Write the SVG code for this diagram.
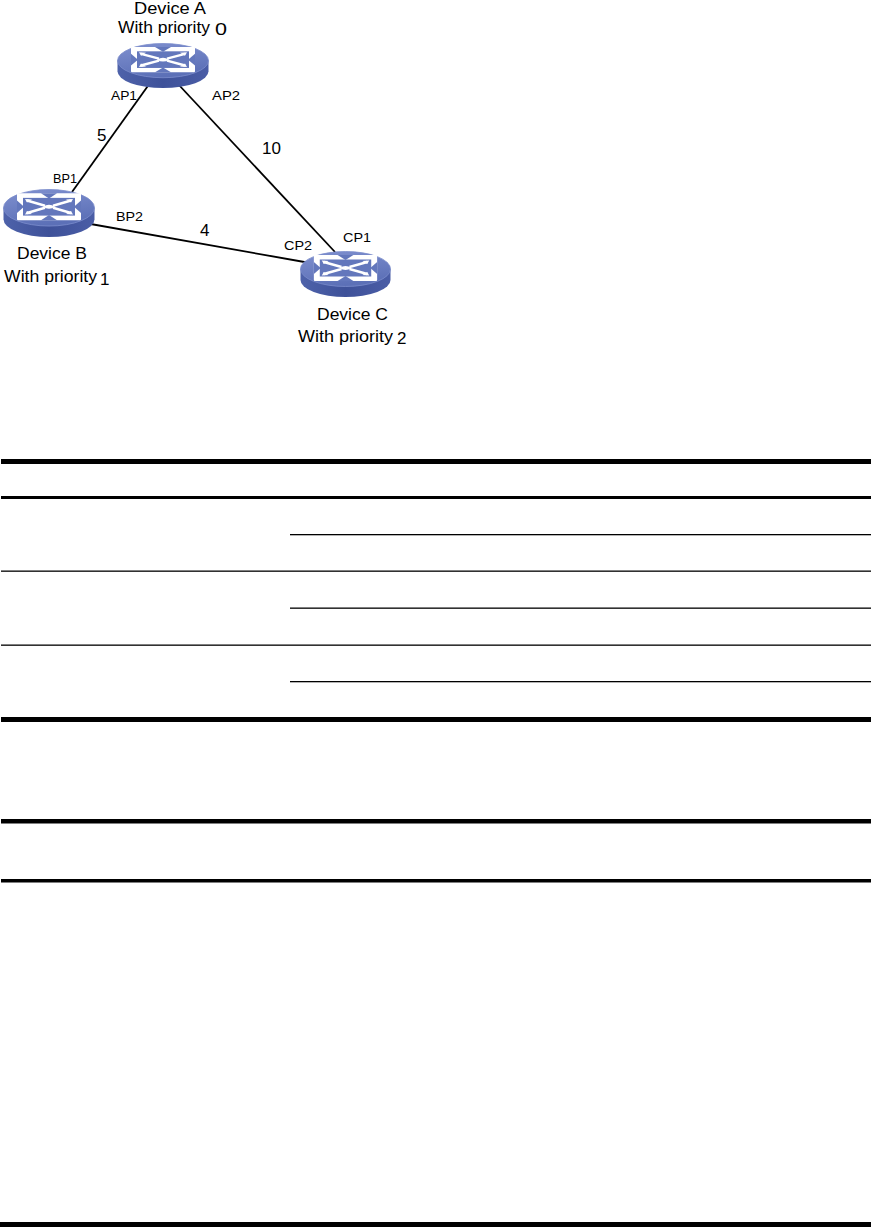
<svg xmlns="http://www.w3.org/2000/svg" xmlns:xlink="http://www.w3.org/1999/xlink" width="871" height="1227" viewBox="0 0 871 1227">
<style>
.lbl{font-family:"Liberation Sans",Arial,sans-serif;font-size:16px;fill:#000}
.port{font-family:"Liberation Sans",Arial,sans-serif;font-size:12px;fill:#000}
.cost{font-family:"Liberation Sans",Arial,sans-serif;font-size:17px;fill:#000}
.link{stroke:#000;stroke-width:1.8;fill:none}
.rule{fill:#000}
</style>
<defs>
<linearGradient id="gTop" x1="0" y1="0" x2="0.3" y2="1">
<stop offset="0" stop-color="#7f90cf"/>
<stop offset="1" stop-color="#5c70b7"/>
</linearGradient>
<linearGradient id="gSide" x1="0" y1="0" x2="1" y2="0">
<stop offset="0" stop-color="#4e62aa"/>
<stop offset="0.5" stop-color="#3e5199"/>
<stop offset="1" stop-color="#4a5da6"/>
</linearGradient>
<symbol id="sw" viewBox="0 0 92 46" preserveAspectRatio="none">
<path d="M0.5,18 L0.5,29 A45.5,17 0 0 0 91.5,29 L91.5,18 Z" fill="url(#gSide)"/>
<ellipse cx="46" cy="18" rx="45.5" ry="17.5" fill="url(#gTop)" stroke="#7b8ccb" stroke-width="0.8"/>
<rect x="14" y="4" width="64" height="26" rx="1" fill="#ffffff"/>
<rect x="20" y="8.5" width="52" height="17" fill="#6377bc"/>
<polygon points="38,4 54,4 46,9" fill="#6377bc"/>
<polygon points="38,30 54,30 46,25" fill="#6377bc"/>
<polygon points="14,11 14,23 21,17" fill="#6377bc"/>
<polygon points="78,11 78,23 71,17" fill="#6377bc"/>
<path d="M24,11 L42,16 M50,18 L68,23 M68,11 L50,16 M42,18 L24,23" stroke="#ffffff" stroke-width="2.4" fill="none"/>
<path d="M40,17 Q46,13 52,17 Q46,21 40,17 Z" fill="#ffffff"/>
<polygon points="22,9.5 29,10 24,13" fill="#ffffff"/>
<polygon points="70,24.5 63,24 68,21" fill="#ffffff"/>
<polygon points="70,9.5 63,10 68,13" fill="#ffffff"/>
<polygon points="22,24.5 29,24 24,21" fill="#ffffff"/>
</symbol>
</defs>

<g id="connectors">
<line class="link" x1="150" y1="83" x2="72" y2="192"/>
<line class="link" x1="178" y1="84" x2="335" y2="252"/>
<line class="link" x1="85" y1="223" x2="310" y2="263"/>
</g>

<g id="deviceA">
<use xlink:href="#sw" href="#sw" x="117" y="43" width="92" height="45"/>
<text class="lbl" x="134" y="14" textLength="72" lengthAdjust="spacingAndGlyphs">Device A</text>
<text class="lbl" x="118" y="33" textLength="92" lengthAdjust="spacingAndGlyphs">With priority</text>
<text class="lbl" x="215" y="35" textLength="12" lengthAdjust="spacingAndGlyphs">0</text>
<text class="port" x="111" y="100" textLength="26" lengthAdjust="spacingAndGlyphs">AP1</text>
<text class="port" x="212" y="100" textLength="28" lengthAdjust="spacingAndGlyphs">AP2</text>
</g>

<g id="deviceB">
<use xlink:href="#sw" href="#sw" x="3" y="189" width="92" height="48"/>
<text class="lbl" x="17" y="259" textLength="70" lengthAdjust="spacingAndGlyphs">Device B</text>
<text class="lbl" x="4" y="282" textLength="93" lengthAdjust="spacingAndGlyphs">With priority</text>
<text class="cost" x="100" y="285">1</text>
<text class="port" x="53" y="183" textLength="24" lengthAdjust="spacingAndGlyphs">BP1</text>
<text class="port" x="116" y="221" textLength="27" lengthAdjust="spacingAndGlyphs">BP2</text>
</g>

<g id="deviceC">
<use xlink:href="#sw" href="#sw" x="300" y="251" width="91" height="46"/>
<text class="lbl" x="317" y="320" textLength="71" lengthAdjust="spacingAndGlyphs">Device C</text>
<text class="lbl" x="298" y="342" textLength="95" lengthAdjust="spacingAndGlyphs">With priority</text>
<text class="cost" x="397" y="344">2</text>
<text class="port" x="284" y="250" textLength="28" lengthAdjust="spacingAndGlyphs">CP2</text>
<text class="port" x="343" y="242" textLength="28" lengthAdjust="spacingAndGlyphs">CP1</text>
</g>

<g id="costs">
<text class="cost" x="97" y="141">5</text>
<text class="cost" x="262" y="154">10</text>
<text class="cost" x="200" y="236">4</text>
</g>

<g id="table1">
<rect class="rule" x="1" y="459" width="870" height="5"/>
<rect class="rule" x="1" y="496" width="870" height="3"/>
<rect class="rule" x="290" y="534" width="581" height="1.3"/>
<rect class="rule" x="1" y="570.5" width="870" height="1.3"/>
<rect class="rule" x="290" y="607.5" width="581" height="1.3"/>
<rect class="rule" x="1" y="644.5" width="870" height="1.3"/>
<rect class="rule" x="290" y="681" width="581" height="1.3"/>
<rect class="rule" x="1" y="717" width="870" height="5"/>
</g>

<g id="table2">
<rect class="rule" x="1" y="819" width="870" height="4.5"/>
<rect class="rule" x="1" y="879" width="870" height="3.5"/>
</g>

<g id="bottomRule">
<rect class="rule" x="0" y="1222" width="871" height="5"/>
</g>
</svg>
